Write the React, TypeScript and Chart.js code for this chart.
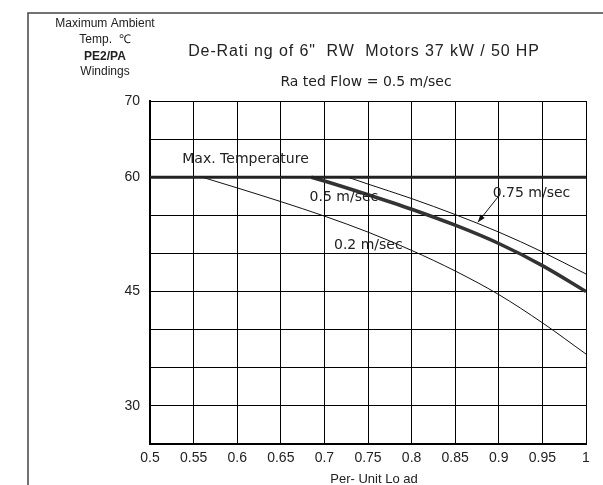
import React, { useEffect, useRef } from "react";
import { Chart, registerables } from "chart.js";

Chart.register(...registerables);

const maxTempX = [0.5, 1];
const maxTempY = [60, 60];

const flow05X = [0.685, 0.7, 0.75, 0.8, 0.85, 0.9, 0.95, 1];
const flow05Y = [60, 59.5, 57.7, 55.8, 53.7, 51.3, 48.4, 45];

const flow075X = [0.727, 0.75, 0.8, 0.85, 0.9, 0.95, 1];
const flow075Y = [60, 59.1, 57.2, 55.1, 52.8, 50.2, 47.3];

const flow02X = [0.56, 0.6, 0.65, 0.7, 0.75, 0.8, 0.85, 0.9, 0.95, 1];
const flow02Y = [60, 58.6, 56.8, 54.9, 52.8, 50.4, 47.7, 44.6, 40.9, 36.8];

const yLabelled = [30, 45, 60, 70];

const titleText = 'De-Rati ng of 6"  RW  Motors 37 kW / 50 HP';
const subtitleText = "Ra ted Flow = 0.5 m/sec";
const xTitleText = "Per- Unit Lo ad";
const cornerLines = ["Maximum Ambient", "Temp.  ℃", "PE2/PA", "Windings"];

const toPts = (xs: number[], ys: number[]) => xs.map((x, i) => ({ x, y: ys[i] }));

const textPlugin = {
  id: "textPlugin",
  beforeDraw(chart: any) {
    const ctx = chart.ctx;
    ctx.save();
    ctx.strokeStyle = "#444";
    ctx.lineWidth = 1.5;
    ctx.beginPath();
    ctx.moveTo(28, 485);
    ctx.lineTo(28, 13);
    ctx.lineTo(603, 13);
    ctx.stroke();
    ctx.restore();
  },
  afterDraw(chart: any) {
    const ctx = chart.ctx;
    const xs = chart.scales.x;
    const ys = chart.scales.y;
    const ca = chart.chartArea;
    ctx.save();
    ctx.fillStyle = "#222";
    ctx.textBaseline = "middle";
    ctx.textAlign = "center";
    const cornerY = [24, 40, 57, 72];
    cornerLines.forEach((t, i) => {
      ctx.font = (i === 2 ? "bold " : "") + "12px 'Liberation Sans', Arial, sans-serif";
      ctx.fillText(t, 105, cornerY[i]);
    });
    ctx.font = "16px 'Liberation Sans', Arial, sans-serif";
    (ctx as any).letterSpacing = "0.9px";
    ctx.fillText(titleText, 364, 52);
    (ctx as any).letterSpacing = "0px";
    ctx.font = "14px 'DejaVu Sans', sans-serif";
    ctx.fillText(subtitleText, 366, 82);
    ctx.font = "13px 'Liberation Sans', Arial, sans-serif";
    ctx.fillText(xTitleText, (ca.left + ca.right) / 2 + 6, 479);

    ctx.textAlign = "left";
    ctx.font = "14px 'DejaVu Sans', sans-serif";
    ctx.fillText("Max. Temperature", xs.getPixelForValue(0.537), ys.getPixelForValue(62.3));
    ctx.fillText("0.5 m/sec", xs.getPixelForValue(0.683), ys.getPixelForValue(57.3));
    ctx.fillText("0.2 m/sec", xs.getPixelForValue(0.711), ys.getPixelForValue(51.1));
    ctx.fillText("0.75 m/sec", xs.getPixelForValue(0.893), ys.getPixelForValue(57.9));

    const x0 = xs.getPixelForValue(0.899);
    const y0 = ys.getPixelForValue(57.4);
    const x1 = xs.getPixelForValue(0.876);
    const y1 = ys.getPixelForValue(54.1);
    ctx.strokeStyle = "#111";
    ctx.lineWidth = 1;
    ctx.beginPath();
    ctx.moveTo(x0, y0);
    ctx.lineTo(x1, y1);
    ctx.stroke();
    const ang = Math.atan2(y1 - y0, x1 - x0);
    const hl = 8;
    const hw = 0.35;
    ctx.fillStyle = "#111";
    ctx.beginPath();
    ctx.moveTo(x1, y1);
    ctx.lineTo(x1 - hl * Math.cos(ang - hw), y1 - hl * Math.sin(ang - hw));
    ctx.lineTo(x1 - hl * Math.cos(ang + hw), y1 - hl * Math.sin(ang + hw));
    ctx.closePath();
    ctx.fill();
    ctx.restore();
  },
};

export default function App() {
  const ref = useRef<HTMLCanvasElement | null>(null);
  useEffect(() => {
    if (!ref.current) return;
    const chart = new Chart(ref.current, {
      type: "line",
      data: {
        datasets: [
          {
            data: toPts(maxTempX, maxTempY),
            borderColor: "#222",
            borderWidth: 3,
            pointRadius: 0,
            tension: 0,
          },
          {
            data: toPts(flow05X, flow05Y),
            borderColor: "#333",
            borderWidth: 3.5,
            pointRadius: 0,
            cubicInterpolationMode: "monotone",
          },
          {
            data: toPts(flow075X, flow075Y),
            borderColor: "#111",
            borderWidth: 1,
            pointRadius: 0,
            cubicInterpolationMode: "monotone",
          },
          {
            data: toPts(flow02X, flow02Y),
            borderColor: "#111",
            borderWidth: 1,
            pointRadius: 0,
            cubicInterpolationMode: "monotone",
          },
        ],
      },
      options: {
        responsive: false,
        animation: false,
        devicePixelRatio: 1,
        layout: { padding: { top: 101, right: 17, left: 0, bottom: 0 } },
        plugins: { legend: { display: false }, tooltip: { enabled: false }, title: { display: false } },
        scales: {
          x: {
            type: "linear",
            min: 0.5,
            max: 1,
            ticks: {
              stepSize: 0.05,
              color: "#222",
              padding: 6,
              font: { family: "'Liberation Sans', Arial, sans-serif", size: 14 },
              callback: (v: any) => Number(Number(v).toFixed(2)).toString(),
              maxRotation: 0,
              autoSkip: false,
            },
            grid: { color: "#000", lineWidth: 1, drawTicks: false },
            border: { color: "#000", width: 2 },
            afterFit: (s: any) => {
              s.height = 41;
            },
          },
          y: {
            type: "linear",
            min: 25,
            max: 70,
            ticks: {
              stepSize: 5,
              color: "#222",
              padding: 10,
              font: { family: "'Liberation Sans', Arial, sans-serif", size: 14 },
              callback: (v: any) => (yLabelled.includes(Number(v)) ? String(v) : ""),
              autoSkip: false,
            },
            grid: { color: "#000", lineWidth: 1, drawTicks: false },
            border: { color: "#000", width: 2 },
            afterFit: (s: any) => {
              s.width = 150;
            },
          },
        },
      } as any,
      plugins: [textPlugin],
    });
    return () => chart.destroy();
  }, []);
  return (
    <div style={{ position: "fixed", left: 0, top: 0, width: 603, height: 485, background: "#fff" }}>
      <canvas ref={ref} width={603} height={485} style={{ display: "block" }} />
    </div>
  );
}
